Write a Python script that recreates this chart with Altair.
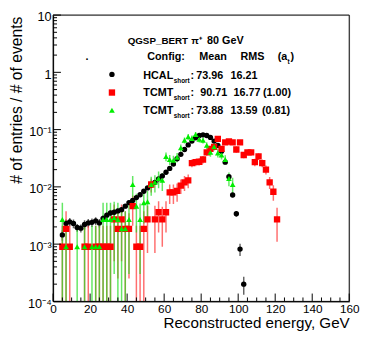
import altair as alt
import pandas as pd

W, H = 302, 292
FONT = "Liberation Sans"

# ---- data ----
hcal_x = [5, 7, 9, 11, 13, 15, 17, 19, 21, 23, 25, 27, 29, 31, 33, 35, 37, 39, 41, 43,
          45, 47, 49, 51, 53, 55, 57, 59, 61, 63, 65, 67, 69, 71, 73, 75, 77, 79, 81, 83,
          85, 87, 89, 91, 93, 95, 97, 99, 101, 103]
hcal_y = [1.45e-3, 2.3e-3, 2.45e-3, 2.3e-3, 1.95e-3, 1.9e-3, 2.2e-3, 2.35e-3, 2.4e-3, 2.55e-3,
          2.35e-3, 2.8e-3, 3.2e-3, 3.5e-3, 3.6e-3, 3.8e-3, 4.0e-3, 4.6e-3, 5.3e-3, 5.8e-3,
          6.5e-3, 7.3e-3, 8.4e-3, 9.6e-3, 1.08e-2, 1.2e-2, 1.38e-2, 1.55e-2, 1.8e-2, 2.1e-2,
          2.5e-2, 3.1e-2, 3.7e-2, 4.5e-2, 5.4e-2, 6.3e-2, 7.2e-2, 7.9e-2, 8.1e-2, 7.9e-2,
          7.3e-2, 6.3e-2, 5.3e-2, 4.2e-2, 2.7e-2, 1.5e-2, 7.2e-3, 3.4e-3, 8.2e-4, 2.0e-4]
hcal_err = [3e-4, 4e-4, 4e-4, 4e-4, 3e-4, 3e-4, 4e-4, 4e-4, 4e-4, 4e-4,
            4e-4, 4e-4, 4e-4, 4e-4, 4e-4, 4e-4, 4e-4, 4e-4, 5e-4, 5e-4,
            5e-4, 6e-4, 6e-4, 7e-4, 7e-4, 8e-4, 8e-4, 9e-4, 1e-3, 1e-3,
            1.1e-3, 1.2e-3, 1.3e-3, 1.5e-3, 1.6e-3, 1.7e-3, 1.8e-3, 1.9e-3, 1.9e-3, 1.9e-3,
            1.8e-3, 1.7e-3, 1.6e-3, 1.4e-3, 1.1e-3, 8e-4, 6e-4, 4e-4, 2e-4, 7e-5]

tcmt_x = [5, 7, 9, 17, 19, 23, 25, 27, 29, 31, 33, 35, 37, 39, 41, 43, 45, 47, 49, 51,
          53, 55, 57, 59, 61, 63, 65, 67, 69, 71, 73, 75, 77, 79, 81, 83, 85, 87, 89, 91,
          93, 95, 97, 99, 101, 103, 105, 107, 109, 111, 113, 115, 117, 119, 121]
tcmt_y = [9e-4, 1.85e-3, 9e-4, 9e-4, 9e-4, 9e-4, 9e-4, 9e-4, 9e-4, 9e-4,
          2.7e-3, 1.85e-3, 2.7e-3, 1.85e-3, 1.85e-3, 4.6e-3, 9e-4, 9e-4, 1.85e-3, 2.7e-3,
          1.1e-2, 2.7e-3, 3.6e-3, 2.7e-3, 3.6e-3, 8e-3, 8e-3, 8.5e-3, 1.05e-2, 1.2e-2,
          1.3e-2, 2.6e-2, 2.7e-2, 2.75e-2, 3.0e-2, 4.0e-2, 4.6e-2, 5.0e-2, 6.9e-2, 4.6e-2,
          6.0e-2, 6.2e-2, 6.0e-2, 4.5e-2, 6.0e-2, 3.6e-2, 4.0e-2, 4.0e-2, 2.7e-2, 3.4e-2,
          2.6e-2, 2.0e-2, 1.2e-2, 8.2e-3, 2.7e-3]
tcmt_err = [1.2e-3, 1.9e-3, 1.2e-3, 1.2e-3, 1.2e-3, 1.2e-3, 1.2e-3, 1.2e-3, 1.2e-3, 1.2e-3,
            2.2e-3, 1.6e-3, 2.2e-3, 1.9e-3, 1.6e-3, 2.5e-3, 1.2e-3, 1.2e-3, 1.9e-3, 2.0e-3,
            3.0e-3, 2.0e-3, 2.0e-3, 1.8e-3, 2.0e-3, 3.0e-3, 3.0e-3, 3.0e-3, 3.0e-3, 3.5e-3,
            3.5e-3, 4.0e-3, 4.0e-3, 4.0e-3, 4.5e-3, 5.0e-3, 5.5e-3, 5.5e-3, 6.5e-3, 5.5e-3,
            6.0e-3, 6.0e-3, 6.0e-3, 5.5e-3, 6.0e-3, 4.5e-3, 5.0e-3, 5.0e-3, 4.0e-3, 4.5e-3,
            4.0e-3, 3.5e-3, 2.8e-3, 2.5e-3, 1.6e-3]

tcmt81_x = [5, 7, 13, 17, 21, 23, 25, 27, 29, 31, 33, 35, 37, 39, 41, 43, 45, 47, 49, 51,
            53, 55, 57, 59, 61, 63, 65, 67, 69, 71, 73, 75, 77, 79, 81, 83, 85, 87, 89, 91,
            93, 95, 97]
tcmt81_y = [2.7e-3, 9e-4, 9e-4, 9e-4, 9e-4, 9e-4, 9e-4, 2.7e-3, 2.7e-3, 2.7e-3,
            2.9e-3, 2.7e-3, 1.85e-3, 1.85e-3, 2.7e-3, 1.1e-2, 4.6e-3, 2.7e-3, 5.3e-3, 5.5e-3,
            1.1e-2, 1.2e-2, 1.4e-2, 1.3e-2, 3.4e-2, 3.0e-2, 2.9e-2, 3.3e-2, 4.8e-2, 6.5e-2,
            7.5e-2, 7.0e-2, 8.2e-2, 6.8e-2, 6.5e-2, 5.3e-2, 4.0e-2, 5.0e-2, 3.9e-2, 3.6e-2,
            3.0e-2, 1.4e-2, 1.1e-2]
tcmt81_err = [2.6e-3, 1.2e-3, 1.2e-3, 1.2e-3, 1.2e-3, 1.2e-3, 1.2e-3, 2.6e-3, 2.6e-3, 2.6e-3,
              2.6e-3, 2.6e-3, 1.9e-3, 1.9e-3, 2.4e-3, 4.5e-3, 3.0e-3, 2.4e-3, 3.0e-3, 3.0e-3,
              4.0e-3, 4.0e-3, 4.5e-3, 4.5e-3, 6.0e-3, 6.0e-3, 6.0e-3, 6.0e-3, 7.0e-3, 8.0e-3,
              8.5e-3, 8.5e-3, 9.0e-3, 8.5e-3, 8.0e-3, 7.0e-3, 6.5e-3, 7.0e-3, 6.5e-3, 6.0e-3,
              5.5e-3, 3.8e-3, 3.4e-3]

x_major = [0, 20, 40, 60, 80, 100, 120, 140, 160]
x_minor = [v for v in range(0, 161, 5) if v % 20 != 0]
y_major = [1e-4, 1e-3, 1e-2, 1e-1, 1, 10]
y_minor = [m * d for d in [1e-4, 1e-3, 1e-2, 1e-1, 1] for m in range(2, 10)]

YMIN = 1e-4


def frame(xs, ys, es):
    return pd.DataFrame({
        "x": xs, "y": ys,
        "lo": [max(y - e, YMIN) for y, e in zip(ys, es)],
        "hi": [y + e for y, e in zip(ys, es)],
    })


df_h = frame(hcal_x, hcal_y, hcal_err)
df_t = frame(tcmt_x, tcmt_y, tcmt_err)
df_g = frame(tcmt81_x, tcmt81_y, tcmt81_err)

xs = alt.Scale(domain=[0, 160], nice=False, zero=False)
ys = alt.Scale(type="log", domain=[1e-4, 10], nice=False)

label_expr = ("datum.value > 5 ? '10' : datum.value > 0.5 ? '1' : datum.value > 0.05 ? '10⁻¹' : "
              "datum.value > 0.005 ? '10⁻²' : datum.value > 0.0005 ? '10⁻³' : '10⁻⁴'")

x_axis = alt.Axis(values=x_major, title="Reconstructed energy, GeV", ticks=False, tickSize=0,
                  grid=False, labelFont=FONT, labelFontSize=12, labelColor="black",
                  labelPadding=2, labelFlush=False, domainColor="black",
                  titleFont=FONT, titleFontSize=15.5, titleFontWeight="normal", titleColor="black",
                  titleX=W, titleY=27, titleAlign="right", titleBaseline="alphabetic")
y_axis = alt.Axis(values=y_major, labelExpr=label_expr, title="# of entries / # of events",
                  ticks=False, tickSize=0, grid=False, labelFont=FONT, labelFontSize=13,
                  labelColor="black", labelPadding=2, labelFlush=False, labelOffset=2,
                  domainColor="black",
                  titleFont=FONT, titleFontSize=16, titleFontWeight="normal", titleColor="black",
                  titleX=-32, titleY=1, titleAngle=-90, titleAlign="right",
                  titleBaseline="alphabetic")


def X(field):
    return alt.X(field, type="quantitative", scale=xs, axis=x_axis)


def Y(field):
    return alt.Y(field, type="quantitative", scale=ys, axis=y_axis)


def errbars(df, color, op):
    return alt.Chart(df).mark_rule(color=color, strokeWidth=1.5, opacity=op, clip=True).encode(
        x=X("x"), y=Y("lo"), y2="hi:Q")


def points(df, shape, color, size):
    return alt.Chart(df).mark_point(shape=shape, filled=True, color=color, size=size,
                                    opacity=1, clip=True).encode(x=X("x"), y=Y("y"))


layers = [
    errbars(df_h, "#555555", 0.9),
    errbars(df_t, "#ff3030", 0.7),
    errbars(df_g, "#22dd22", 0.7),
    points(df_h, "circle", "black", 30),
    points(df_t, "square", "#ff0000", 42),
    points(df_g, "triangle-up", "#00ee00", 34),
]

# inner ticks
tick_specs = [(x_major, "x", 8), (x_minor, "x", 4), (y_major, "y", 8), (y_minor, "y", 4)]
for vals, ax, ln in tick_specs:
    d = pd.DataFrame({"v": vals})
    if ax == "x":
        enc = dict(x=X("v"), y=alt.value(H), y2=alt.value(H - ln))
    else:
        enc = dict(y=Y("v"), x=alt.value(0), x2=alt.value(ln))
    layers.append(alt.Chart(d).mark_rule(color="black", strokeWidth=1).encode(**enc))

# frame box
layers.append(alt.Chart(pd.DataFrame({"a": [0]})).mark_rect(
    fill=None, fillOpacity=0, stroke="black", strokeWidth=1).encode(
    x=alt.value(0), x2=alt.value(W), y=alt.value(0), y2=alt.value(H)))

# legend / text block (page coordinates -> plot coordinates)
OX, OY = 54, 12
texts = [
    ("QGSP_BERT", 130, 41, 10, "bold"),
    ("π⁺", 195, 41, 10, "bold"),
    ("80 GeV", 211, 41, 11, "bold"),
    (".", 87, 58, 11, "bold"),
    ("Config:", 150, 58, 11, "bold"),
    ("Mean", 203, 58, 11, "bold"),
    ("RMS", 245, 58, 11, "bold"),
    ("(a", 283, 58, 11, "bold"),
    ("t", 293, 62, 6.5, "bold"),
    (")", 296, 58, 11, "bold"),
    ("HCAL", 146, 77, 11, "bold"),
    ("short", 177, 81, 6.5, "bold"),
    (":", 194, 77, 11, "bold"),
    ("73.96", 200, 77, 11, "bold"),
    ("16.21", 235, 77, 11, "bold"),
    ("TCMT", 146, 95, 11, "bold"),
    ("short", 177, 99, 6.5, "bold"),
    (":", 194, 95, 11, "bold"),
    ("90.71", 204, 95, 11, "bold"),
    ("16.77", 238, 95, 11, "bold"),
    ("(1.00)", 268, 95, 11, "bold"),
    ("TCMT", 146, 113, 11, "bold"),
    ("short", 177, 117, 6.5, "bold"),
    (":", 194, 113, 11, "bold"),
    ("73.88", 200, 113, 11, "bold"),
    ("13.59", 235, 113, 11, "bold"),
    ("(0.81)", 267, 113, 11, "bold"),
]
for t, px, py, sz, wt in texts:
    layers.append(alt.Chart(pd.DataFrame({"a": [0]})).mark_text(
        text=t, font=FONT, fontSize=sz, fontWeight=wt, color="black",
        align="left", baseline="alphabetic").encode(
        x=alt.value(px - OX), y=alt.value(py - OY)))

legend_marks = [
    ("circle", "black", 30, 114, 72.5),
    ("square", "#ff0000", 42, 114, 91),
    ("triangle-up", "#00ee00", 34, 114, 109),
]
for shp, col, sz, px, py in legend_marks:
    layers.append(alt.Chart(pd.DataFrame({"a": [0]})).mark_point(
        shape=shp, filled=True, color=col, size=sz, opacity=1).encode(
        x=alt.value(px - OX), y=alt.value(py - OY)))

chart = alt.layer(*layers).properties(
    width=W, height=H,
    padding={"left": 46, "top": 4, "right": 12, "bottom": 28},
    autosize=alt.AutoSizeParams(type="none"),
).configure_view(stroke="black", strokeWidth=1).configure(background="white")

chart.save("out.html", embed_options={"renderer": "svg", "actions": False})
